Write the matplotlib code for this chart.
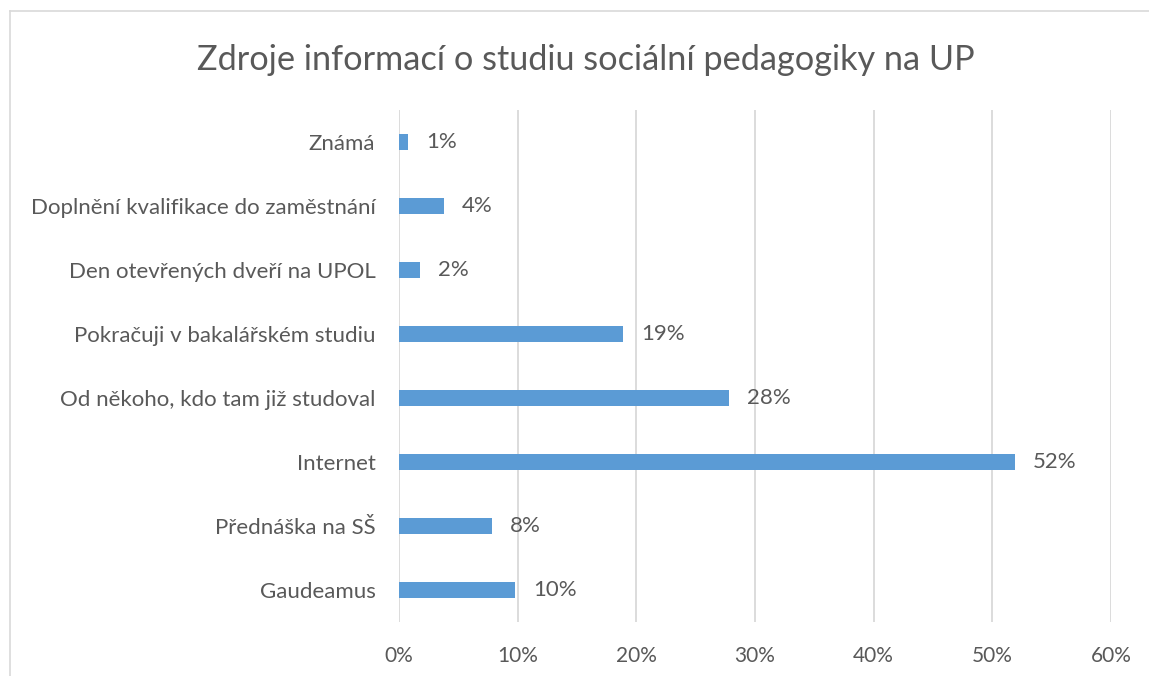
import matplotlib

matplotlib.use("Agg")
import matplotlib.pyplot as plt
from matplotlib.lines import Line2D
from matplotlib.ticker import FuncFormatter

plt.rcParams["font.family"] = ["Lato", "DejaVu Sans"]

# categories listed bottom to top
categories = [
    "Gaudeamus",
    "Přednáška na SŠ",
    "Internet",
    "Od někoho, kdo tam již studoval",
    "Pokračuji v bakalářském studiu",
    "Den otevřených dveří na UPOL",
    "Doplnění kvalifikace do zaměstnání",
    "Známá",
]
shares = [9.8, 7.8, 51.9, 27.8, 18.9, 1.8, 3.8, 0.8]
x_ticks = [0, 10, 20, 30, 40, 50, 60]

BAR = "#5b9bd5"
TEXT = "#595959"
GRID = "#d9d9d9"

W, H = 1149, 676
fig = plt.figure(figsize=(W / 100, H / 100), dpi=100)
fig.patch.set_facecolor("white")

# outer chart border (only top and left edges are visible)
fig.add_artist(Line2D([10 / W, 1], [1 - 11 / H, 1 - 11 / H], color=GRID, lw=1.2,
                      transform=fig.transFigure))
fig.add_artist(Line2D([10 / W, 10 / W], [0, 1 - 11 / H], color=GRID, lw=1.2,
                      transform=fig.transFigure))

ax = fig.add_axes([399 / W, 1 - 622 / H, (1111 - 399) / W, (622 - 110) / H])
ypos = list(range(len(categories)))
ax.barh(ypos, shares, height=0.25, color=BAR, zorder=3)

ax.set_xlim(0, 60)
ax.set_ylim(-0.5, len(categories) - 0.5)
ax.set_xticks(x_ticks)
ax.xaxis.set_major_formatter(FuncFormatter(lambda v, _: f"{v:.0f}%"))
ax.set_yticks(ypos)
ax.set_yticklabels(categories)
ax.grid(axis="x", color=GRID, linewidth=1.3, zorder=0)
for s in ax.spines.values():
    s.set_visible(False)
ax.tick_params(axis="both", length=0, colors=TEXT)
ax.tick_params(axis="x", pad=17, labelsize=15)
ax.tick_params(axis="y", pad=17, labelsize=16)

for y, v in zip(ypos, shares):
    ax.annotate(f"{v:.0f}%", (v, y), xytext=(13, 0), textcoords="offset points",
                va="center", ha="left", fontsize=16, color=TEXT)

fig.text(586 / W, 1 - 60 / H, "Zdroje informací o studiu sociální pedagogiky na UP",
         ha="center", va="center", fontsize=24.7, color=TEXT)

fig.savefig("out.png", dpi=100, facecolor="white")
